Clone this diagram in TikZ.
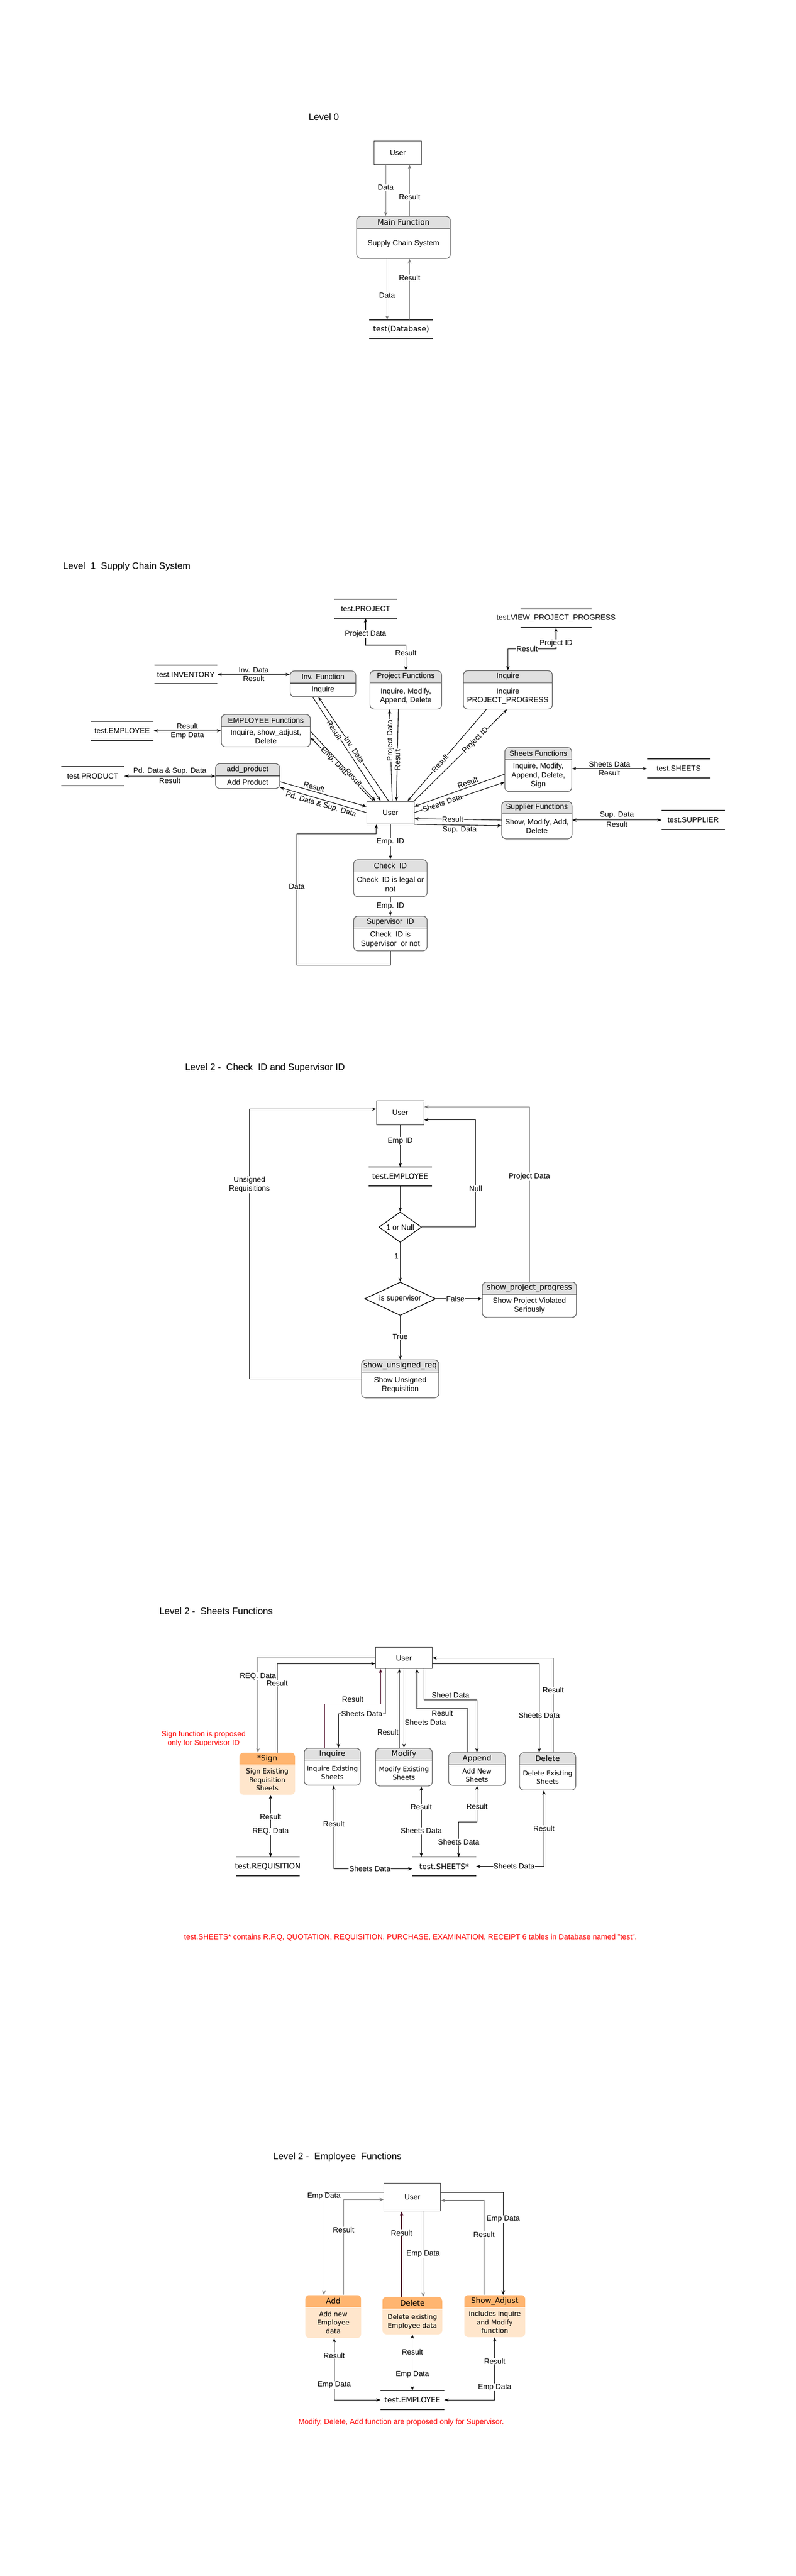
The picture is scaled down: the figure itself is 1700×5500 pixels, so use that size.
\documentclass[tikz,border=0pt]{standalone}
\usepackage{fontspec}
\setmainfont{Liberation Sans}
\newfontfamily\dvsans{DejaVu Sans}
\usetikzlibrary{arrows.meta,calc,shapes.geometric}
\definecolor{hdrgray}{HTML}{E0E0E0}
\definecolor{orhead}{HTML}{FFB570}
\definecolor{orbody}{HTML}{FFE6CC}
\definecolor{resmaroon}{HTML}{4C0A26}
\definecolor{linegray}{HTML}{7A7A7A}
\newcommand\lblfont{\fontsize{16}{19}\selectfont}
\newcommand\ttlfont{\fontsize{20}{24}\selectfont}
\newcommand\dvfont{\dvsans\fontsize{16}{19}\selectfont}
\newcommand\dvsmall{\dvsans\fontsize{14}{18}\selectfont}
\newcommand\funcbox[7][proc]{%
  \node[#1, minimum width=#4, minimum height=#5] (#2) at (#3) {};
  \node[hdrtxt] (#2-h) at ($(#2.north)+(0,13)$) {#6};
  \node[bodytxt] (#2-b) at ($(#2.center)+(0,13)$) {#7};}

\begin{document}
\begin{tikzpicture}[x=1pt,y=-1pt,>={Stealth[length=9pt,width=7pt]}]
	\tikzstyle{flow}=[draw=black, line width=1.2pt, ->]
	\tikzstyle{flowg}=[flow, draw=linegray]
	\tikzstyle{flowm}=[flow, draw=resmaroon]
	\tikzstyle{both}=[flow, <->]
	\tikzstyle{lbl}=[fill=white, inner sep=1pt, font=\lblfont, align=center]
	\tikzstyle{side}=[font=\lblfont, inner sep=3pt]
	\tikzstyle{ttl}=[anchor=west, font=\ttlfont]
	\tikzstyle{ent}=[draw=black!80, line width=1.2pt, font=\lblfont]
	\tikzstyle{dec}=[diamond, aspect=2, draw=black, line width=1.5pt, inner sep=0pt, font=\lblfont]
	\tikzstyle{storeline}=[draw=black!80, line width=2.2pt]
	\tikzstyle{note}=[text=red, font=\lblfont, align=center]
	\tikzstyle{hdrtxt}=[font=\lblfont]
	\tikzstyle{bodytxt}=[font=\lblfont, align=center]
	\tikzset{
	  store/.style={minimum height=40, minimum width=#1, inner sep=0pt, font=\lblfont,
	    append after command={([xshift=-#1/2]\tikzlastnode.north) edge[storeline] ([xshift=#1/2]\tikzlastnode.north)
	      ([xshift=-#1/2]\tikzlastnode.south) edge[storeline] ([xshift=#1/2]\tikzlastnode.south)}},
	  proc/.style={draw=black!65, line width=1.3pt, rounded corners=9pt, fill=white,
	    path picture={\fill[hdrgray, sharp corners] (path picture bounding box.north west) rectangle ([yshift=-26pt]path picture bounding box.north east);
	      \draw[black!65, line width=1.3pt, sharp corners] ([yshift=-26pt]path picture bounding box.north west) -- ([yshift=-26pt]path picture bounding box.north east);}},
	  oproc/.style={draw=none, rounded corners=9pt, fill=orbody,
	    path picture={\fill[orhead, sharp corners] (path picture bounding box.north west) rectangle ([yshift=-26pt]path picture bounding box.north east);
	      \draw[white, line width=1.5pt, sharp corners] ([yshift=-26pt]path picture bounding box.north west) -- ([yshift=-26pt]path picture bounding box.north east);}}}

	\fill[white] (0,0) rectangle (1700,5500);
	\useasboundingbox (0,0) rectangle (1700,5500);

	\begin{scope}[hdrtxt/.style={font=\dvfont}]
	\node[ttl] (t0) at (656,250) {Level 0};
	\node[ent, minimum width=101, minimum height=50] (user0) at (850,326) {User};
	\funcbox{main0}{862,507}{200}{90}{Main Function}{Supply Chain System}
	\node[store=136, font=\dvfont] (db0) at (857,703) {test(Database)};
	\draw[flowg] ($(user0.south)+(-26,0)$) -- node[lbl,pos=0.44]{Data} ($(user0.south |- main0.north)+(-26,0)$);
	\draw[flowg] ($(user0.south |- main0.north)+(25,0)$) -- node[lbl,pos=0.37]{Result} ($(user0.south)+(25,0)$);
	\draw[flowg] ($(main0.south)+(-35,0)$) -- node[lbl,pos=0.6]{Data} ($(main0.south |- db0.north)+(-35,0)$);
	\draw[flowg] ($(main0.south |- db0.north)+(13,0)$) -- node[lbl,pos=0.69]{Result} ($(main0.south)+(13,0)$);
	\end{scope}

	\node[ttl] (t1) at (131,1210) {Level\ \ 1\ \ Supply Chain System};
	\node[store=135] (projst) at (781,1300) {test.PROJECT};
	\node[store=152] (viewst) at (1188,1320) {test.VIEW\_PROJECT\_PROGRESS};
	\node[store=135] (invst) at (397,1440) {test.INVENTORY};
	\node[store=134] (empst) at (261,1560) {test.EMPLOYEE};
	\node[store=135] (prodst) at (198,1657) {test.PRODUCT};
	\node[store=135] (shst1) at (1450,1641) {test.SHEETS};
	\node[store=135] (supst) at (1481,1751) {test.SUPPLIER};
	\funcbox{invf}{690,1460}{140}{55}{Inv. Function}{Inquire}
	\funcbox{projf}{867,1473}{153}{82}{Project Functions}{Inquire, Modify,\\Append, Delete}
	\funcbox{inqf}{1085,1473}{190}{82}{Inquire}{Inquire\\PROJECT\_PROGRESS}
	\funcbox{empf}{568,1560}{190}{69}{EMPLOYEE Functions}{Inquire, show\_adjust,\\Delete}
	\funcbox{addp}{529,1657}{137}{53}{add\_product}{Add Product}
	\funcbox{sheetf}{1150,1643}{143}{94}{Sheets Functions}{Inquire, Modify,\\Append, Delete,\\Sign}
	\funcbox{supf}{1147,1751}{150}{80}{Supplier Functions}{Show, Modify, Add,\\Delete}
	\node[ent, minimum width=101, minimum height=49] (user1) at (834,1735) {User};
	\funcbox{chk}{834,1875}{157}{79}{Check\ \ ID}{Check\ \ ID is legal or\\not}
	\funcbox{supv}{834,1993}{157}{74}{Supervisor\ \ ID}{Check\ \ ID is\\Supervisor\ \ or not}

	\draw[both] (projst.south) -- node[lbl,pos=0.58]{Project Data} ++(0,57) -| node[lbl,pos=0.66]{Result} (projf.north);
	\draw[both] (viewst.south) -- node[lbl,pos=0.73]{Project ID} ++(0,45) -| node[lbl,pos=0.3]{Result} (inqf.north);
	\draw[both] (invst.east) -- node[side,above]{Inv. Data} node[side,below]{Result} (invst.east -| invf.west);
	\draw[both] (empst.east) -- node[side,above]{Result} node[side,below]{Emp Data} (empst.east -| empf.west);
	\draw[both] (prodst.east) -- node[side,above]{Pd. Data \& Sup. Data} node[side,below]{Result} (prodst.east -| addp.west);
	\draw[both] (sheetf.east |- shst1.west) -- node[side,above]{Sheets Data} node[side,below]{Result} (shst1.west);
	\draw[both] (supf.east |- supst.west) -- node[side,above]{Sup. Data} node[side,below]{Result} (supst.west);
	\draw[flow] ($(invf.south)+(-22,0)$) -- node[lbl,sloped,pos=0.32]{Result} ($(user1.north)+(-21,0)$);
	\draw[flow] ($(user1.north)+(-4,0)$) -- node[lbl,sloped,pos=0.49]{Inv. Data} ($(invf.south)+(-10,0)$);
	\draw[flow] ($(user1.north)+(-37,0)$) -- node[lbl,sloped,pos=0.62]{Emp. Data} ($(empf.east)+(0,15)$);
	\draw[flow] ($(empf.east)+(0,2)$) -- node[lbl,sloped,pos=0.66]{Result} ($(user1.north)+(-32,0)$);
	\draw[flow] ($(user1.north)+(4,0)$) -- node[lbl,rotate=90,pos=0.66]{Project Data} ($(projf.south)+(-35,0)$);
	\draw[flow] ($(projf.south)+(-16,0)$) -- node[lbl,rotate=90,pos=0.55]{Result} ($(user1.north)+(13,0)$);
	\draw[flow] ($(inqf.south)+(-46,0)$) -- node[lbl,sloped,pos=0.59]{Result} ($(user1.north)+(37,0)$);
	\draw[flow] (user1.north east) -- node[lbl,sloped,pos=0.66]{Project ID} ($(inqf.south)+(-2,0)$);
	\draw[flow] ($(sheetf.west)+(0,10)$) -- node[side,sloped,above,pos=0.39]{Result} ($(user1.east)+(0,-13)$);
	\draw[flow] (user1.east) -- node[lbl,sloped,pos=0.31]{Sheets Data} ($(sheetf.west)+(0,27)$);
	\draw[flow] (supf.west) -- node[lbl,pos=0.56]{Result} ($(user1.east)+(0,13)$);
	\draw[flow] (user1.south east) -- node[side,below,pos=0.52]{Sup. Data} ($(supf.west)+(0,12)$);
	\draw[flow] ($(addp.east)+(0,12)$) -- node[side,sloped,above,pos=0.38]{Result} ($(user1.west)+(0,-13)$);
	\draw[flow] (user1.west) -- node[side,sloped,below,pos=0.51]{Pd. Data \& Sup. Data} ($(addp.east)+(0,24)$);
	\draw[flow] (user1) -- node[lbl]{Emp. ID} (chk);
	\draw[flow] (chk) -- node[lbl]{Emp. ID} (supv);
	\draw[flow] (supv.south) -- ++(0,30) -| node[lbl,pos=0.8]{Data} ++(-200,-280) -| ($(user1.south)+(-30,0)$);

	\begin{scope}[hdrtxt/.style={font=\dvfont}]
	\node[ttl] (t2) at (392,2280) {Level 2 -\ \ Check\ \ ID and Supervisor ID};
	\node[ent, minimum width=101, minimum height=51] (user2) at (855,2376) {User};
	\node[store=135, font=\dvfont] (empst2) at (855,2512) {test.EMPLOYEE};
	\node[dec, minimum width=91, minimum height=65] (d1) at (855,2620) {1 or Null};
	\node[dec, minimum width=152, minimum height=71] (d2) at (855,2773) {is supervisor};
	\funcbox{spp}{1131,2775}{201}{75}{show\_project\_progress}{Show Project Violated\\Seriously}
	\funcbox{sur}{855,2944}{165}{81}{show\_unsigned\_req}{Show Unsigned\\Requisition}
	\draw[flow] (user2) -- node[lbl,pos=0.38]{Emp ID} (empst2);
	\draw[flow] (empst2) -- (d1);
	\draw[flow] (d1.east) -- ++(115,0) |- node[lbl,pos=0.18]{Null} ($(user2.east)+(0,15)$);
	\draw[flow] (d1) -- node[side,left,pos=0.35]{1} (d2);
	\draw[flow] (d2.east) -- node[lbl,pos=0.42]{False} (d2.east -| spp.west);
	\draw[flowg] (spp.north) |- node[lbl,pos=0.3]{Project Data} ($(user2.east)+(0,-13)$);
	\draw[flow] (d2) -- node[lbl,pos=0.48]{True} (sur);
	\draw[flow] (sur.west) -- ++(-239,0) |- node[lbl,pos=0.36]{Unsigned\\Requisitions} ($(user2.west)+(0,-8)$);
	\end{scope}

	\begin{scope}[hdrtxt/.style={font=\dvfont}, bodytxt/.style={font=\dvsmall, align=center}]
	\node[ttl] (t3) at (337,3440) {Level 2 -\ \ Sheets Functions};
	\node[ent, minimum width=121, minimum height=45] (user3) at (863,3540) {User};
	\funcbox[oproc]{sign}{571,3787}{119}{90}{*Sign}{Sign Existing\\Requisition\\Sheets}
	\funcbox{inq3}{710,3772}{120}{79}{Inquire}{Inquire Existing\\Sheets}
	\funcbox{mod3}{863,3773}{121}{81}{Modify}{Modify Existing\\Sheets}
	\funcbox{app3}{1019,3777}{121}{70}{Append}{Add New\\Sheets}
	\funcbox{del3}{1170,3782}{120}{80}{Delete}{Delete Existing\\Sheets}
	\node[store=136, font=\dvfont] (reqst) at (572,3985) {test.REQUISITION};
	\node[store=136, font=\dvfont] (shst) at (949,3985) {test.SHEETS*};
	\node[note] (signnote) at (435,3713) {Sign function is proposed\\only for Supervisor ID};
	\node[note] (sheetnote) at (877,4137) {test.SHEETS* contains R.F.Q, QUOTATION, REQUISITION, PURCHASE, EXAMINATION, RECEIPT 6 tables in Database named "test".};
	\draw[flowg] ($(user3.west)+(0,-2)$) -| node[lbl,pos=0.6]{REQ. Data} ($(sign.north)+(-20,0)$);
	\draw[flow] ($(sign.north)+(21,0)$) |- node[lbl,pos=0.39]{Result} ($(user3.west)+(0,12)$);
	\draw[both] ($(sign.south)+(7,0)$) -- node[lbl,pos=0.35]{Result} node[lbl,pos=0.59]{REQ. Data} ($(sign.south |- reqst.north)+(7,0)$);
	\draw[flowm] ($(inq3.north)+(-16,0)$) -- ++(0,-94) -| node[side,above,pos=0.25]{Result} ($(user3.south)+(-50,0)$);
	\draw[flow] ($(user3.south)+(-40,0)$) -- ++(0,96) -| node[lbl,pos=0.25]{Sheets Data} ($(inq3.north)+(13,0)$);
	\draw[both] ($(inq3.south)+(3,0)$) |- node[lbl,pos=0.23]{Result} node[lbl,pos=0.73]{Sheets Data} ($(shst.west)+(0,5)$);
	\draw[flow] ($(mod3.north)+(-10,0)$) -- node[lbl,anchor=east,pos=0.2]{Result} ($(user3.south)+(-10,0)$);
	\draw[flow] (user3.south) -- node[lbl,anchor=west,pos=0.68]{Sheets Data} (mod3.north);
	\draw[both] ($(mod3.south)+(37,0)$) -- node[lbl,pos=0.29]{Result} node[lbl,pos=0.63]{Sheets Data} ($(mod3.south |- shst.north)+(37,0)$);
	\draw[flow] ($(app3.north)+(-20,0)$) -- ++(0,-93) -| node[side,below,pos=0.25]{Result} ($(user3.south)+(28,0)$);
	\draw[flow] ($(user3.south)+(43,0)$) -- ++(0,66) -| node[side,above,pos=0.25]{Sheet Data} (app3.north);
	\draw[both] (app3.south) -- node[lbl,pos=0.58]{Result} ++(0,77) -| node[lbl,pos=0.79]{Sheets Data} ($(shst.north)+(31,0)$);
	\draw[flow] ($(del3.north)+(12,0)$) |- node[lbl,pos=0.33]{Result} (user3.east);
	\draw[flow] ($(user3.east)+(0,12)$) -| node[lbl,pos=0.79]{Sheets Data} ($(del3.north)+(-18,0)$);
	\draw[both] ($(del3.south)+(-8,0)$) |- node[lbl,pos=0.25]{Result} node[lbl,pos=0.72]{Sheets Data} (shst.east);
	\end{scope}

	\begin{scope}[hdrtxt/.style={font=\dvfont}, bodytxt/.style={font=\dvsmall, align=center}]
	\node[ttl] (t4) at (580,4605) {Level 2 -\ \ Employee\ \ Functions};
	\node[ent, minimum width=121, minimum height=60] (user4) at (881,4691) {User};
	\funcbox[oproc]{add4}{712,4946}{119}{92}{Add}{Add new\\Employee\\data}
	\funcbox[oproc]{del4}{881,4944}{128}{80}{Delete}{Delete existing\\Employee data}
	\funcbox[oproc]{sa4}{1057,4945}{130}{90}{Show\_Adjust}{includes inquire\\and Modify\\function}
	\node[store=136, font=\dvfont] (empst4) at (881,5124) {test.EMPLOYEE};
	\node[note] (empnote) at (857,5172) {Modify, Delete, Add function are proposed only for Supervisor.};
	\draw[flowg] ($(user4.west)+(0,-10)$) -| node[lbl,pos=0.52]{Emp Data} ($(add4.north)+(-20,0)$);
	\draw[flowg] ($(add4.north)+(22,0)$) |- node[lbl,pos=0.34]{Result} ($(user4.west)+(0,5)$);
	\draw[flowm] ($(del4.north)+(-23,0)$) -- node[lbl,pos=0.75]{Result} ($(user4.south)+(-23,0)$);
	\draw[flowg] ($(user4.south)+(23,0)$) -- node[lbl,pos=0.5]{Emp Data} ($(del4.north)+(23,0)$);
	\draw[flowg] ($(sa4.north)+(-23,0)$) |- node[lbl,pos=0.32]{Result} ($(user4.east)+(0,7)$);
	\draw[flow] ($(user4.east)+(0,-10)$) -| node[lbl,pos=0.63]{Emp Data} ($(sa4.north)+(18,0)$);
	\draw[both] ($(add4.south)+(2,0)$) |- node[lbl,pos=0.14]{Result} node[lbl,pos=0.38]{Emp Data} (empst4.west);
	\draw[both] (del4) -- node[lbl,pos=0.31]{Result} node[lbl,pos=0.72]{Emp Data} (empst4);
	\draw[both] (sa4.south) |- node[lbl,pos=0.19]{Result} node[lbl,pos=0.4]{Emp Data} (empst4.east);
	\end{scope}
\end{tikzpicture}
\end{document}
